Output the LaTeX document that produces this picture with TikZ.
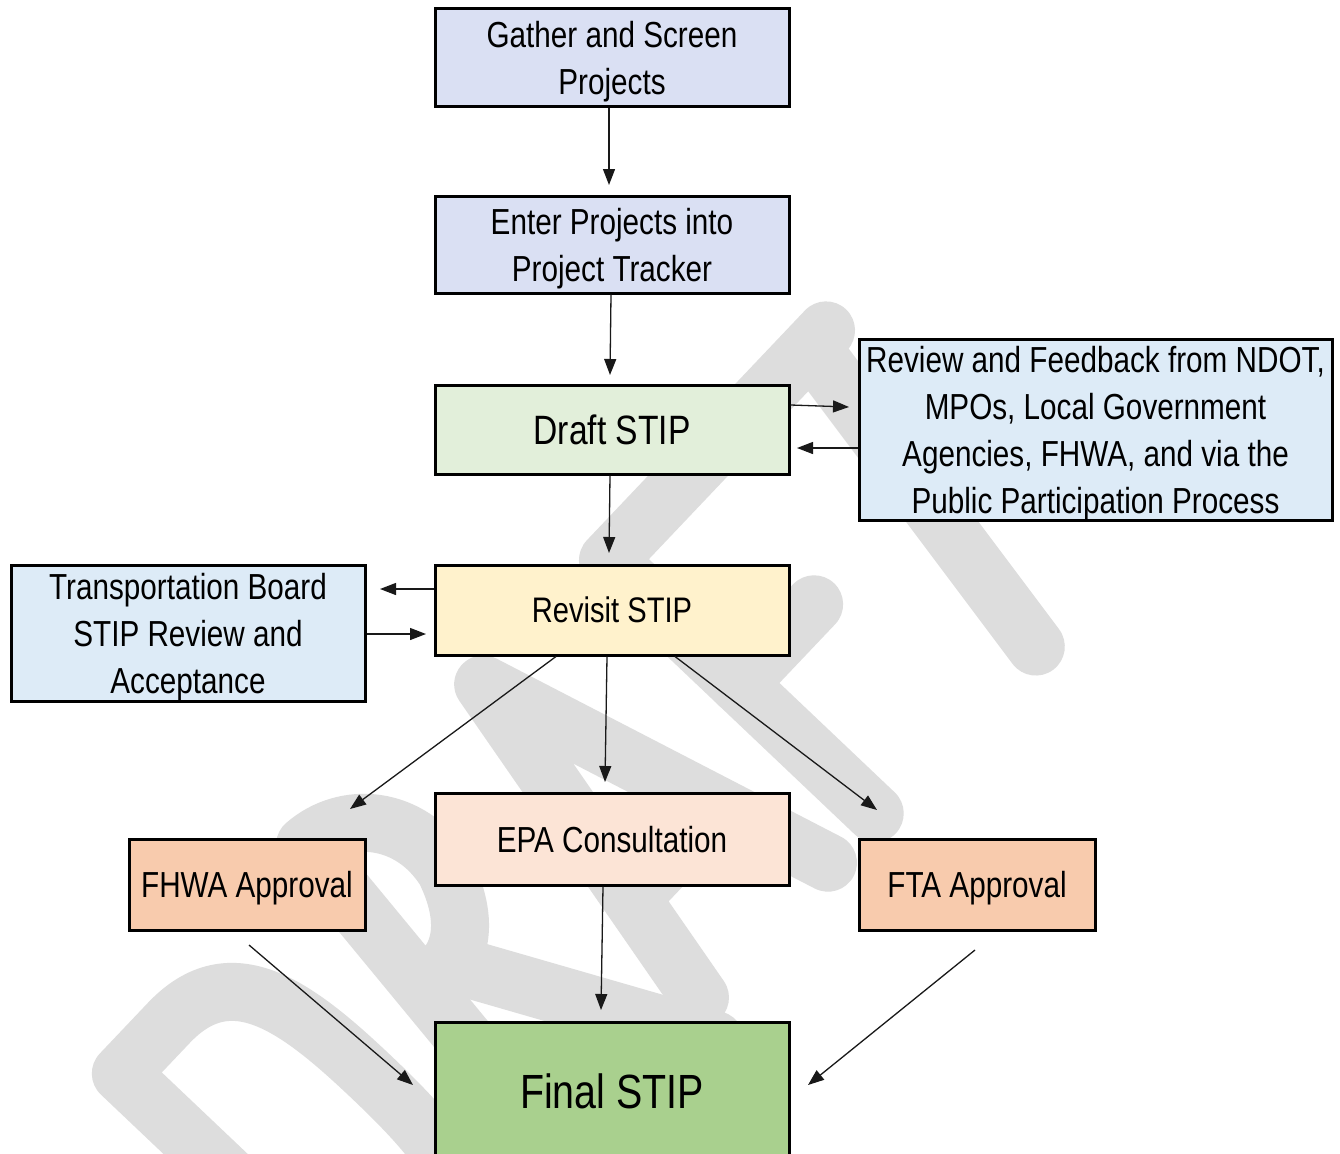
\documentclass[tikz,border=0pt]{standalone}
\usepackage{fontspec}
\setmainfont{Liberation Sans}[FakeStretch=0.82]
\usetikzlibrary{arrows.meta}
\definecolor{wm}{RGB}{221,221,221}
\definecolor{cLav}{HTML}{DAE0F3}
\definecolor{cDraft}{HTML}{E2EFDA}
\definecolor{cBlue}{HTML}{DDEBF7}
\definecolor{cYel}{HTML}{FFF2CC}
\definecolor{cEpa}{HTML}{FCE4D6}
\definecolor{cOra}{HTML}{F8CBAD}
\definecolor{cFin}{HTML}{A9D08E}
\begin{document}
\begin{tikzpicture}[x=1pt,y=-1pt,
  box/.style={draw=black, line width=3pt, inner sep=0pt, align=center, text=black,
    text depth=0pt, font=\fontsize{36.2}{47}\selectfont},
  arr/.style={-{Triangle[length=16pt,width=12pt]}, line width=1.3pt, draw=black!90},
  wmstroke/.style={draw=wm, line width=58pt, line cap=round, line join=round}]
\useasboundingbox (0,0) rectangle (1340,1153);
\fill[white] (0,0) rectangle (1340,1153);
% watermark "DRAFT"
\begin{scope}[shift={(24.5,1175)}, x={(0.688pt,0.725pt)}, y={(0.725pt,-0.688pt)}]
  % D
  \draw[wmstroke] (140,368) -- (140,0) -- (210,0) .. controls (300,0) and (310,80) .. (310,184)
     .. controls (310,290) and (300,368) .. (210,368) -- cycle;
  % A
  \draw[wmstroke] (594,368) -- (672,-5) -- (780,368);
  \draw[wmstroke] (620,250) -- (745,250);
  % F
  \draw[wmstroke] (848,368) -- (848,0) -- (1165,0);
  \draw[wmstroke] (848,180) -- (958,180);
  % T
  \draw[wmstroke] (1142,5) -- (1080,370);
\end{scope}
% R (image coordinates)
\draw[wmstroke] (470,1045) -- (305,845) .. controls (345,810) and (410,815) .. (445,870)
   .. controls (470,920) and (465,965) .. (421,985);
\draw[wmstroke] (455,965) -- (715,1040);
% boxes
\node[box, fill=cLav, minimum width=354pt, minimum height=98pt] (g) at (612,58) {Gather and Screen\\Projects};
\node[box, fill=cLav, minimum width=354pt, minimum height=97pt] (e) at (612,244.5) {Enter Projects into\\Project Tracker};
\node[box, fill=cDraft, minimum width=354pt, minimum height=89pt, font=\fontsize{41}{48}\selectfont] (d) at (612,429.5) {Draft STIP};
\node[box, fill=cBlue, minimum width=473pt, minimum height=181pt] (r) at (1095.5,429.5) {Review and Feedback from NDOT,\\MPOs, Local Government\\Agencies, FHWA, and via the\\Public Participation Process};
\node[box, fill=cYel, minimum width=354pt, minimum height=90pt, font=\fontsize{35.5}{47}\selectfont] (v) at (612,610) {Revisit STIP};
\node[box, fill=cBlue, minimum width=354pt, minimum height=136pt] (t) at (188,633) {Transportation Board\\STIP Review and\\Acceptance};
\node[box, fill=cEpa, minimum width=354pt, minimum height=92pt] (p) at (612,839) {EPA Consultation};
\node[box, fill=cOra, minimum width=236pt, minimum height=91pt] (fh) at (247,884.5) {FHWA Approval};
\node[box, fill=cOra, minimum width=236pt, minimum height=91pt] (ft) at (977,884.5) {FTA Approval};
\node[box, fill=cFin, minimum width=354pt, minimum height=138pt, font=\fontsize{48}{56}\selectfont] (f) at (612,1091) {Final STIP};
% connectors
\draw[arr] ([xshift=-3pt]g.south) -- ([xshift=-3pt,yshift=9.5pt]e.north);
\draw[arr] ([xshift=-1pt]e.south) -- ([xshift=-2pt,yshift=8.5pt]d.north);
\draw[arr] ([yshift=24.5pt]d.east) -- ([xshift=-8.5pt,yshift=22.5pt]r.west);
\draw[arr] ([yshift=-18.5pt]r.west) -- ([xshift=6.5pt,yshift=-18.5pt]d.east);
\draw[arr] ([xshift=-2pt]d.south) -- ([xshift=-3pt,yshift=10.5pt]v.north);
\draw[arr] ([yshift=21pt]v.west) -- ([xshift=13.5pt,yshift=44pt]t.east);
\draw[arr] ([yshift=-1pt]t.east) -- ([xshift=-7.5pt,yshift=-24pt]v.west);
\draw[arr] ([xshift=-56pt]v.south) -- ([xshift=103pt,yshift=28.5pt]fh.north);
\draw[arr] ([xshift=-5pt]v.south) -- ([xshift=-7pt,yshift=9.5pt]p.north);
\draw[arr] ([xshift=63pt]v.south) -- ([xshift=-100pt,yshift=27.5pt]ft.north);
\draw[arr] ([xshift=-9pt]p.south) -- ([xshift=-11pt,yshift=10.5pt]f.north);
\draw[arr] ([xshift=2pt,yshift=-13.5pt]fh.south) -- ([xshift=-20.5pt,yshift=6pt]f.west);
\draw[arr] ([xshift=-2pt,yshift=-18.5pt]ft.south) -- ([xshift=17.5pt,yshift=6pt]f.east);
\end{tikzpicture}
\end{document}
